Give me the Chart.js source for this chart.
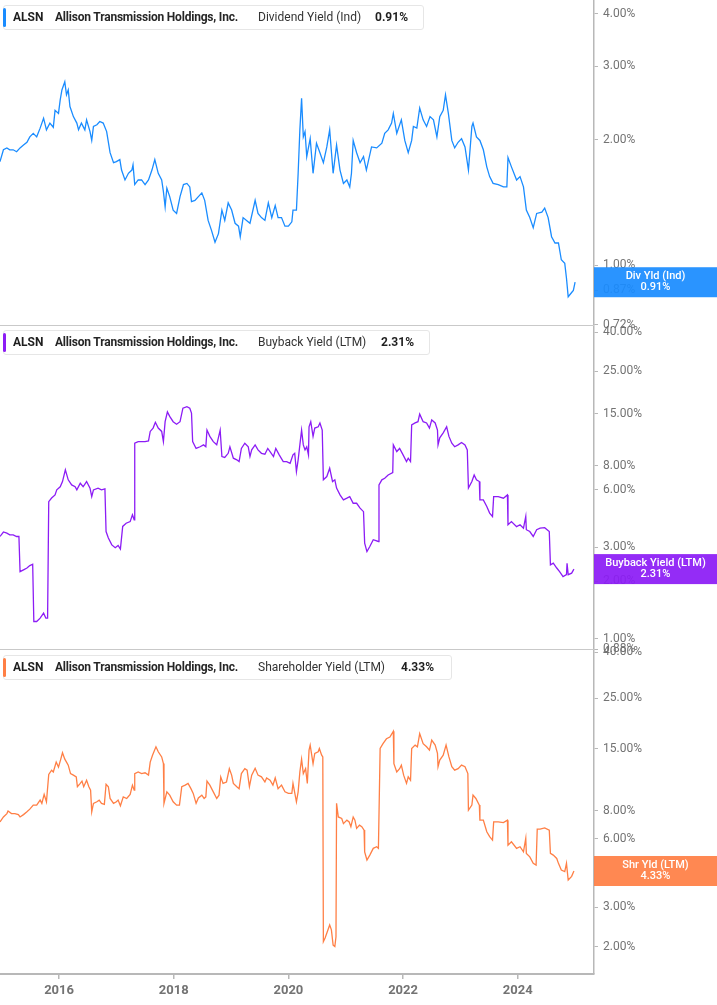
<!DOCTYPE html>
<html>
<head>
<meta charset="utf-8">
<title>ALSN - Dividend, Buyback and Shareholder Yield</title>
<script src="https://cdn.jsdelivr.net/npm/chart.js@4.4.1/dist/chart.umd.min.js"></script>
<style>
  body { margin: 0; background: #fff; font-family: Roboto, "Liberation Sans", Arial, sans-serif; }
  #wrap { position: relative; width: 717px; height: 1005px; overflow: hidden; }
  #chart { position: absolute; left: 0; top: 0; }
  .legend-box { position: absolute; left: 3px; height: 25px; box-sizing: border-box; border: 1px solid #e6e6e6; border-radius: 3px; background: #fff; }
  .legend-bar { position: absolute; left: -1px; top: 2px; bottom: 2px; width: 3px; border-radius: 2px; }
  .legend-txt { position: absolute; font-size: 12px; line-height: 14px; white-space: nowrap; color: #1f1f1f; }
  .b { font-weight: 700; }
  .m { font-weight: 700; letter-spacing: -0.2px; color: #262626; }
  .r { font-weight: 400; color: #333; }
</style>
</head>
<body>
<div id="wrap">
  <canvas id="chart" width="717" height="1005"></canvas>
</div>
<script>
// Dividend Yield (Ind), %
const divDates = [2014.97, 2015.03, 2015.09, 2015.14, 2015.20, 2015.26, 2015.32, 2015.38, 2015.44, 2015.49,
  2015.55, 2015.61, 2015.67, 2015.73, 2015.78, 2015.84, 2015.90, 2015.93, 2015.99, 2016.02,
  2016.05, 2016.10, 2016.13, 2016.16, 2016.19, 2016.25, 2016.31, 2016.34, 2016.39, 2016.45,
  2016.48, 2016.54, 2016.57, 2016.60, 2016.66, 2016.71, 2016.77, 2016.83, 2016.89, 2016.95,
  2017.00, 2017.06, 2017.09, 2017.15, 2017.21, 2017.27, 2017.29, 2017.32, 2017.38, 2017.44,
  2017.50, 2017.56, 2017.62, 2017.67, 2017.73, 2017.79, 2017.82, 2017.85, 2017.88, 2017.93,
  2017.99, 2018.05, 2018.11, 2018.17, 2018.23, 2018.28, 2018.31, 2018.37, 2018.43, 2018.49,
  2018.54, 2018.60, 2018.66, 2018.72, 2018.78, 2018.84, 2018.89, 2018.95, 2019.01, 2019.07,
  2019.13, 2019.16, 2019.21, 2019.27, 2019.33, 2019.42, 2019.47, 2019.53, 2019.59, 2019.65,
  2019.71, 2019.77, 2019.82, 2019.88, 2019.94, 2020.00, 2020.06, 2020.08, 2020.14, 2020.17,
  2020.20, 2020.23, 2020.26, 2020.29, 2020.32, 2020.38, 2020.43, 2020.49, 2020.55, 2020.61,
  2020.67, 2020.72, 2020.78, 2020.84, 2020.90, 2020.96, 2021.02, 2021.07, 2021.10, 2021.13,
  2021.19, 2021.25, 2021.31, 2021.36, 2021.45, 2021.54, 2021.63, 2021.68, 2021.74, 2021.80,
  2021.83, 2021.89, 2021.97, 2022.03, 2022.09, 2022.15, 2022.18, 2022.24, 2022.29, 2022.35,
  2022.41, 2022.47, 2022.53, 2022.59, 2022.64, 2022.70, 2022.74, 2022.79, 2022.85, 2022.90,
  2022.96, 2023.02, 2023.08, 2023.14, 2023.20, 2023.22, 2023.28, 2023.34, 2023.40, 2023.46,
  2023.51, 2023.57, 2023.66, 2023.75, 2023.81, 2023.83, 2023.89, 2023.98, 2024.04, 2024.10,
  2024.15, 2024.21, 2024.27, 2024.33, 2024.42, 2024.47, 2024.53, 2024.59, 2024.65, 2024.71,
  2024.76, 2024.82, 2024.85, 2024.88, 2024.94, 2024.97, 2025.00];
const divValues = [1.77, 1.89, 1.91, 1.89, 1.89, 1.87, 1.91, 1.94, 1.97, 2.03,
  2.07, 2.03, 2.13, 2.25, 2.11, 2.19, 2.14, 2.35, 2.31, 2.49,
  2.63, 2.75, 2.56, 2.63, 2.40, 2.27, 2.19, 2.11, 2.19, 2.11,
  2.23, 2.09, 1.99, 2.15, 2.17, 2.21, 2.19, 2.09, 1.86, 1.76,
  1.77, 1.79, 1.69, 1.60, 1.66, 1.69, 1.74, 1.56, 1.60, 1.60,
  1.56, 1.60, 1.69, 1.79, 1.66, 1.60, 1.50, 1.38, 1.53, 1.46,
  1.355, 1.33, 1.46, 1.56, 1.57, 1.54, 1.42, 1.43, 1.46, 1.49,
  1.43, 1.28, 1.21, 1.135, 1.19, 1.355, 1.28, 1.41, 1.355, 1.26,
  1.24, 1.17, 1.30, 1.28, 1.26, 1.43, 1.33, 1.30, 1.28, 1.41,
  1.30, 1.39, 1.30, 1.30, 1.24, 1.24, 1.27, 1.355, 1.355, 1.66,
  2.11, 2.51, 2.03, 2.09, 1.82, 2.01, 1.66, 1.96, 1.86, 1.76,
  1.92, 2.11, 1.66, 1.94, 1.69, 1.57, 1.60, 1.54, 1.66, 1.99,
  1.86, 1.76, 1.82, 1.69, 1.92, 1.91, 1.96, 2.07, 2.11, 2.19,
  2.31, 2.07, 2.23, 1.99, 1.86, 1.99, 2.15, 2.13, 2.38, 2.23,
  2.15, 2.27, 2.23, 2.03, 2.27, 2.35, 2.56, 2.31, 1.99, 1.91,
  1.97, 2.01, 1.92, 1.69, 2.15, 2.19, 2.03, 1.99, 1.89, 1.72,
  1.63, 1.57, 1.56, 1.54, 1.54, 1.81, 1.72, 1.60, 1.63, 1.54,
  1.355, 1.30, 1.23, 1.33, 1.34, 1.37, 1.30, 1.17, 1.13, 1.13,
  1.03, 1.01, 0.93, 0.84, 0.86, 0.87, 0.91];

// Buyback Yield (LTM), %
const bbDates = [2014.97, 2015.03, 2015.09, 2015.14, 2015.20, 2015.26, 2015.30, 2015.32, 2015.38, 2015.44,
  2015.49, 2015.54, 2015.56, 2015.61, 2015.67, 2015.73, 2015.77, 2015.80, 2015.82, 2015.87,
  2015.93, 2015.96, 2016.02, 2016.06, 2016.11, 2016.16, 2016.22, 2016.28, 2016.31, 2016.37,
  2016.42, 2016.48, 2016.54, 2016.57, 2016.60, 2016.68, 2016.74, 2016.80, 2016.82, 2016.86,
  2016.92, 2016.98, 2017.03, 2017.07, 2017.11, 2017.17, 2017.24, 2017.28, 2017.31, 2017.32,
  2017.38, 2017.44, 2017.50, 2017.56, 2017.59, 2017.64, 2017.68, 2017.73, 2017.79, 2017.82,
  2017.85, 2017.89, 2017.93, 2017.99, 2018.05, 2018.11, 2018.16, 2018.23, 2018.28, 2018.31,
  2018.33, 2018.39, 2018.46, 2018.52, 2018.56, 2018.58, 2018.63, 2018.69, 2018.75, 2018.81,
  2018.84, 2018.89, 2018.95, 2018.98, 2019.04, 2019.10, 2019.14, 2019.18, 2019.24, 2019.30,
  2019.33, 2019.36, 2019.42, 2019.47, 2019.53, 2019.59, 2019.64, 2019.68, 2019.74, 2019.78,
  2019.84, 2019.91, 2019.97, 2020.03, 2020.08, 2020.11, 2020.14, 2020.17, 2020.20, 2020.23,
  2020.26, 2020.29, 2020.32, 2020.35, 2020.36, 2020.39, 2020.43, 2020.46, 2020.52, 2020.55,
  2020.59, 2020.61, 2020.67, 2020.72, 2020.77, 2020.81, 2020.84, 2020.90, 2020.96, 2021.02,
  2021.07, 2021.13, 2021.19, 2021.25, 2021.31, 2021.33, 2021.37, 2021.42, 2021.48, 2021.57,
  2021.58, 2021.63, 2021.68, 2021.74, 2021.82, 2021.83, 2021.89, 2021.94, 2022.00, 2022.06,
  2022.09, 2022.13, 2022.15, 2022.21, 2022.26, 2022.29, 2022.35, 2022.41, 2022.46, 2022.50,
  2022.56, 2022.60, 2022.61, 2022.64, 2022.70, 2022.76, 2022.80, 2022.85, 2022.90, 2022.96,
  2023.02, 2023.08, 2023.12, 2023.14, 2023.20, 2023.24, 2023.28, 2023.33, 2023.34, 2023.40,
  2023.46, 2023.51, 2023.56, 2023.58, 2023.66, 2023.75, 2023.82, 2023.83, 2023.89, 2023.98,
  2024.04, 2024.10, 2024.14, 2024.15, 2024.21, 2024.27, 2024.33, 2024.39, 2024.47, 2024.55,
  2024.57, 2024.62, 2024.68, 2024.73, 2024.79, 2024.85, 2024.86, 2024.88, 2024.94, 2024.98];
const bbValues = [3.42, 3.61, 3.56, 3.49, 3.49, 3.42, 3.42, 2.24, 2.29, 2.34,
  2.41, 2.45, 1.23, 1.23, 1.28, 1.36, 1.28, 1.28, 5.20, 5.43,
  5.64, 5.99, 6.22, 6.62, 7.62, 6.76, 6.36, 6.22, 5.99, 6.49,
  6.22, 6.62, 6.12, 5.52, 5.99, 6.12, 5.99, 6.06, 3.63, 3.36,
  3.09, 2.99, 3.07, 2.94, 3.86, 4.01, 4.09, 4.44, 4.18, 10.5,
  10.7, 10.7, 10.7, 10.8, 12.1, 12.6, 13.5, 12.6, 12.1, 10.7,
  13.6, 15.3, 14.5, 13.6, 13.2, 13.6, 16.0, 16.3, 16.0, 15.1,
  10.7, 9.86, 10.06, 10.29, 10.06, 12.3, 11.4, 10.7, 10.3, 12.3,
  8.95, 8.85, 9.3, 10.06, 8.77, 8.60, 8.42, 9.86, 10.5, 10.06,
  8.95, 9.69, 10.29, 9.69, 9.3, 9.2, 9.86, 9.5, 8.95, 9.86,
  9.13, 8.42, 8.42, 8.25, 9.13, 9.3, 7.46, 8.60, 10.29, 12.3,
  10.29, 9.69, 10.06, 9.13, 12.8, 13.6, 11.4, 12.6, 12.8, 13.4,
  12.3, 6.76, 7.03, 7.77, 6.62, 6.76, 6.12, 5.64, 5.31, 5.42,
  5.52, 5.10, 5.10, 4.81, 4.61, 3.16, 2.85, 3.03, 3.29, 3.22,
  6.36, 6.76, 6.89, 7.17, 7.38, 10.29, 9.5, 9.86, 9.13, 8.42,
  8.77, 8.42, 13.1, 13.4, 13.6, 14.9, 13.6, 13.4, 12.6, 13.9,
  13.4, 12.3, 10.29, 11.2, 11.9, 12.8, 11.4, 10.5, 10.06, 10.29,
  10.6, 10.29, 9.69, 6.12, 6.62, 7.17, 6.76, 6.62, 5.31, 5.31,
  4.91, 4.53, 4.35, 5.52, 5.52, 5.42, 5.64, 3.94, 4.09, 3.85,
  3.94, 3.78, 4.35, 3.71, 3.63, 3.42, 3.71, 3.78, 3.80, 3.63,
  2.43, 2.48, 2.34, 2.24, 2.11, 2.16, 2.48, 2.16, 2.20, 2.31];

// Shareholder Yield (LTM), %
const shDates = [2014.97, 2015.03, 2015.09, 2015.11, 2015.17, 2015.23, 2015.29, 2015.32, 2015.38, 2015.44,
  2015.49, 2015.55, 2015.61, 2015.67, 2015.70, 2015.74, 2015.78, 2015.82, 2015.87, 2015.90,
  2015.95, 2015.99, 2016.03, 2016.06, 2016.10, 2016.13, 2016.16, 2016.20, 2016.25, 2016.30,
  2016.32, 2016.37, 2016.40, 2016.43, 2016.48, 2016.52, 2016.55, 2016.57, 2016.60, 2016.66,
  2016.70, 2016.74, 2016.79, 2016.82, 2016.86, 2016.89, 2016.95, 2017.00, 2017.03, 2017.07,
  2017.12, 2017.18, 2017.24, 2017.28, 2017.31, 2017.32, 2017.38, 2017.44, 2017.50, 2017.56,
  2017.59, 2017.63, 2017.69, 2017.73, 2017.79, 2017.82, 2017.83, 2017.88, 2017.93, 2017.99,
  2018.05, 2018.10, 2018.14, 2018.20, 2018.25, 2018.30, 2018.34, 2018.39, 2018.43, 2018.49,
  2018.53, 2018.56, 2018.58, 2018.63, 2018.69, 2018.75, 2018.79, 2018.82, 2018.86, 2018.92,
  2018.97, 2019.01, 2019.04, 2019.10, 2019.14, 2019.18, 2019.24, 2019.28, 2019.32, 2019.36,
  2019.42, 2019.47, 2019.53, 2019.59, 2019.62, 2019.68, 2019.73, 2019.77, 2019.82, 2019.88,
  2019.94, 2020.00, 2020.06, 2020.08, 2020.14, 2020.17, 2020.20, 2020.23, 2020.26, 2020.30,
  2020.33, 2020.36, 2020.38, 2020.43, 2020.46, 2020.52, 2020.54, 2020.58, 2020.60, 2020.61,
  2020.64, 2020.72, 2020.75, 2020.78, 2020.81, 2020.83, 2020.84, 2020.87, 2020.93, 2020.96,
  2021.02, 2021.06, 2021.09, 2021.13, 2021.16, 2021.19, 2021.24, 2021.28, 2021.32, 2021.33,
  2021.37, 2021.42, 2021.48, 2021.54, 2021.57, 2021.60, 2021.65, 2021.71, 2021.77, 2021.83,
  2021.84, 2021.89, 2021.94, 2021.97, 2022.01, 2022.06, 2022.09, 2022.13, 2022.15, 2022.21,
  2022.25, 2022.29, 2022.35, 2022.41, 2022.46, 2022.50, 2022.56, 2022.60, 2022.61, 2022.64,
  2022.70, 2022.75, 2022.80, 2022.85, 2022.90, 2022.96, 2023.02, 2023.08, 2023.13, 2023.14,
  2023.20, 2023.22, 2023.27, 2023.33, 2023.34, 2023.40, 2023.46, 2023.51, 2023.56, 2023.58,
  2023.66, 2023.75, 2023.82, 2023.83, 2023.89, 2023.98, 2024.04, 2024.10, 2024.14, 2024.15,
  2024.21, 2024.27, 2024.32, 2024.34, 2024.39, 2024.47, 2024.55, 2024.57, 2024.62, 2024.68,
  2024.71, 2024.76, 2024.82, 2024.85, 2024.88, 2024.94, 2024.98];
const shValues = [7.13, 7.50, 7.76, 7.96, 7.76, 7.76, 7.68, 7.50, 7.68, 7.90,
  8.12, 8.46, 8.46, 8.90, 8.61, 9.43, 8.75, 11.55, 12.06, 11.85,
  13.1, 12.45, 13.5, 14.4, 13.5, 13.1, 12.7, 11.65, 11.47, 11.27,
  10.2, 10.55, 10.8, 10.2, 10.9, 10.2, 9.85, 7.90, 8.61, 8.75,
  8.90, 8.61, 8.52, 10.45, 10.2, 9.05, 8.61, 8.75, 8.90, 8.40,
  9.20, 9.05, 9.43, 10.36, 9.85, 11.65, 11.85, 11.65, 11.75, 11.47,
  13.1, 14.05, 15.3, 14.55, 13.8, 12.9, 8.61, 9.68, 9.36, 8.75,
  8.46, 8.46, 10.2, 10.36, 10.55, 10.0, 9.53, 8.61, 9.1, 9.36,
  9.05, 9.20, 10.8, 10.36, 9.68, 9.05, 9.36, 11.27, 10.55, 10.7,
  12.25, 11.47, 10.55, 10.2, 10.0, 11.65, 12.25, 12.06, 10.2, 11.47,
  12.3, 11.47, 11.27, 10.7, 11.15, 10.9, 10.36, 11.15, 10.0, 10.36,
  9.68, 9.53, 9.53, 10.55, 8.75, 9.68, 11.85, 13.5, 11.65, 12.25,
  10.55, 14.78, 15.56, 12.9, 14.3, 14.55, 15.05, 14.05, 13.8, 2.11,
  2.19, 2.50, 2.38, 2.04, 2.01, 2.22, 8.61, 7.50, 7.38, 7.01,
  7.26, 7.13, 6.79, 7.50, 7.26, 6.68, 6.90, 6.79, 6.56, 5.26,
  4.84, 5.09, 5.45, 5.54, 5.45, 15.05, 15.8, 16.6, 16.9, 17.9,
  12.9, 11.85, 12.25, 12.7, 11.47, 10.55, 11.27, 10.9, 15.05, 15.56,
  15.3, 17.5, 15.8, 15.3, 14.78, 16.37, 15.56, 14.3, 12.5, 13.36,
  14.05, 15.56, 13.8, 12.5, 12.06, 12.25, 12.7, 12.5, 11.65, 8.04,
  8.46, 9.36, 9.05, 8.46, 7.26, 7.26, 6.45, 6.14, 5.93, 7.13,
  7.13, 7.08, 7.26, 5.63, 5.83, 5.45, 5.54, 5.26, 6.04, 5.18,
  5.00, 4.68, 4.60, 6.63, 6.63, 6.71, 6.56, 5.18, 5.09, 4.92,
  4.68, 4.37, 4.30, 4.68, 3.95, 4.10, 4.33];

// axis ticks and ranges
const yearTicks = [2016, 2018, 2020, 2022, 2024];
const divTicks = [0.72, 0.87, 1, 2, 3, 4];
const bbTicks = [0.88, 1, 2, 3, 6, 8, 15, 25, 40];
const shTicks = [2, 3, 6, 8, 15, 25, 40];
const xRange = [2014.97, 2025.33];
const divRange = [0.72, 4.32];
const bbRange = [0.88, 43.7];
const shRange = [1.52, 41.2];

const divColor = '#1a8cff';
const bbColor = '#8c1cf5';
const shColor = '#ff7f45';
const axisGrey = '#b8b8b8';

function toPoints(dates, values) {
  return dates.map((d, i) => ({ x: d, y: values[i] }));
}

function pct(v) {
  return v.toFixed(2) + '%';
}

function yAxis(range, ticks) {
  return {
    type: 'logarithmic',
    position: 'right',
    stack: 'yields',
    stackWeight: 1,
    bounds: 'data',
    min: range[0],
    max: range[1],
    afterBuildTicks: scale => { scale.ticks = ticks.map(v => ({ value: v })); },
    afterFit: scale => { scale.width = 123; scale.paddingTop = 0; scale.paddingBottom = 0; },
    grid: { drawOnChartArea: false, drawTicks: true, tickLength: 4, color: axisGrey },
    border: { display: true, color: axisGrey, width: 1.5 },
    ticks: {
      autoSkip: false,
      padding: 5,
      color: '#737373',
      font: { family: 'Roboto', size: 12 },
      callback: v => pct(v)
    }
  };
}

// separators between panels + last value tags on the right
const panelDecor = {
  id: 'panelDecor',
  afterDraw(chart) {
    const { ctx, chartArea } = chart;
    ctx.save();
    ctx.strokeStyle = '#c9c9c9';
    ctx.lineWidth = 1;
    ['y1', 'y2'].forEach(id => {
      const yy = Math.round(chart.scales[id].bottom) + 0.5;
      ctx.beginPath();
      ctx.moveTo(chartArea.left, yy);
      ctx.lineTo(chartArea.right, yy);
      ctx.stroke();
    });
    const cx = (chartArea.right + chart.width) / 2;
    chart.data.datasets.forEach(ds => {
      const scale = chart.scales[ds.yAxisID];
      const last = ds.data[ds.data.length - 1].y;
      const yc = scale.getPixelForValue(last);
      ctx.globalAlpha = 0.93;
      ctx.fillStyle = ds.borderColor;
      ctx.fillRect(chartArea.right, yc - 15, chart.width - chartArea.right, 30);
      ctx.globalAlpha = 1;
      ctx.fillStyle = '#fff';
      ctx.font = '500 11px Roboto';
      ctx.textAlign = 'center';
      ctx.textBaseline = 'middle';
      ctx.fillText(ds.tagLabel, cx, yc - 5.5);
      ctx.fillText(pct(last), cx, yc + 5.5);
    });
    ctx.restore();
  }
};

const chart = new Chart(document.getElementById('chart'), {
  type: 'line',
  data: {
    datasets: [
      { label: 'Dividend Yield (Ind)', tagLabel: 'Div Yld (Ind)', yAxisID: 'y1',
        data: toPoints(divDates, divValues), borderColor: divColor },
      { label: 'Buyback Yield (LTM)', tagLabel: 'Buyback Yield (LTM)', yAxisID: 'y2',
        data: toPoints(bbDates, bbValues), borderColor: bbColor },
      { label: 'Shareholder Yield (LTM)', tagLabel: 'Shr Yld (LTM)', yAxisID: 'y3',
        data: toPoints(shDates, shValues), borderColor: shColor }
    ]
  },
  options: {
    responsive: false,
    animation: false,
    layout: { padding: 0 },
    elements: {
      line: { borderWidth: 1.3, tension: 0 },
      point: { radius: 0 }
    },
    plugins: {
      legend: { display: false },
      tooltip: { enabled: false }
    },
    scales: {
      x: {
        type: 'linear',
        position: 'bottom',
        bounds: 'data',
        min: xRange[0],
        max: xRange[1],
        afterBuildTicks: scale => { scale.ticks = yearTicks.map(v => ({ value: v })); },
        afterFit: scale => { scale.height = 31; scale.paddingLeft = 0; scale.paddingRight = 0; },
        grid: { drawOnChartArea: false, drawTicks: true, tickLength: 5, color: axisGrey, lineWidth: 1.5 },
        border: { display: true, color: axisGrey, width: 2 },
        ticks: {
          autoSkip: false,
          maxRotation: 0,
          padding: 4,
          color: '#737373',
          font: { family: 'Roboto', size: 13, weight: 'bold' },
          callback: v => String(v)
        }
      },
      y1: yAxis(divRange, divTicks),
      y2: yAxis(bbRange, bbTicks),
      y3: yAxis(shRange, shTicks)
    }
  },
  plugins: [panelDecor]
});

// legend boxes in the top left corner of each panel
const legends = [
  { top: 5, width: 421, color: divColor, metric: 'Dividend Yield (Ind)', value: pct(divValues[divValues.length - 1]), valueLeft: 375 },
  { top: 330, width: 427, color: bbColor, metric: 'Buyback Yield (LTM)', value: pct(bbValues[bbValues.length - 1]), valueLeft: 381 },
  { top: 655, width: 449, color: shColor, metric: 'Shareholder Yield (LTM)', value: pct(shValues[shValues.length - 1]), valueLeft: 401 }
];
const wrap = document.getElementById('wrap');
legends.forEach(lg => {
  const box = document.createElement('div');
  box.className = 'legend-box';
  box.style.top = lg.top + 'px';
  box.style.width = lg.width + 'px';
  box.innerHTML = '<div class="legend-bar" style="background:' + lg.color + '"></div>';
  wrap.appendChild(box);
  const parts = [
    ['ALSN', 'b', 13],
    ['Allison Transmission Holdings, Inc.', 'm', 55],
    [lg.metric, 'r', 258],
    [lg.value, 'b', lg.valueLeft]
  ];
  parts.forEach(p => {
    const s = document.createElement('span');
    s.className = 'legend-txt ' + p[1];
    s.textContent = p[0];
    s.style.left = p[2] + 'px';
    s.style.top = (lg.top + 5) + 'px';
    wrap.appendChild(s);
  });
});
</script>
</body>
</html>
